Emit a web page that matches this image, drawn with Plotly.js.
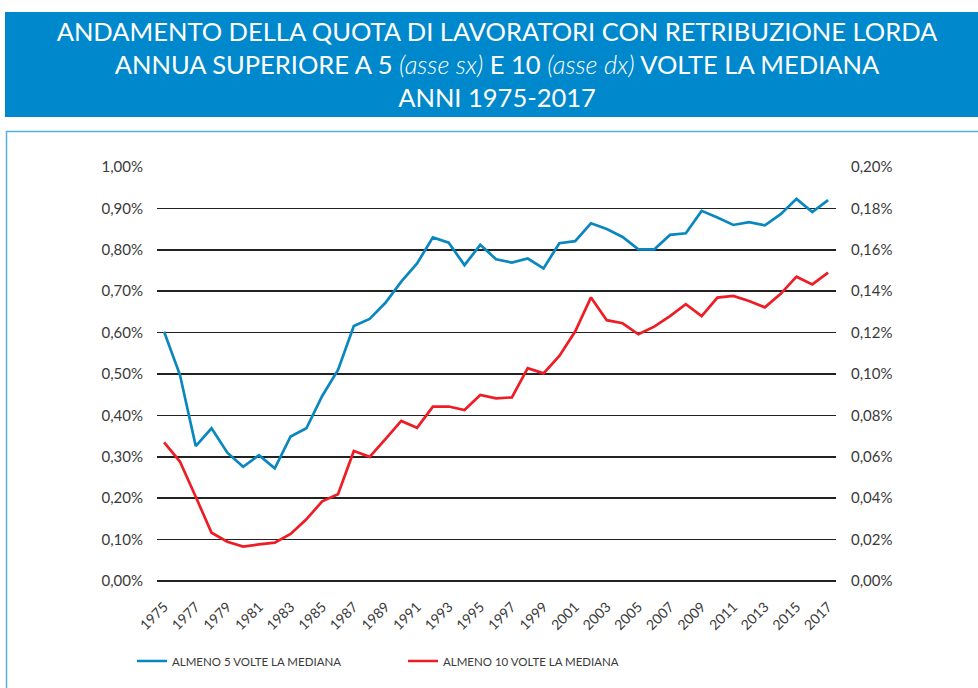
<!DOCTYPE html>
<html>
<head>
<meta charset="utf-8">
<script src="https://cdn.plot.ly/plotly-3.0.1.min.js"></script>
<style>html,body{margin:0;padding:0;background:#fff;}#chart{width:978px;height:688px;}</style>
</head>
<body>
<div id="chart"></div>
<script>
const years = [1975,1976,1977,1978,1979,1980,1981,1982,1983,1984,1985,1986,1987,1988,1989,1990,1991,1992,1993,1994,1995,1996,1997,1998,1999,2000,2001,2002,2003,2004,2005,2006,2007,2008,2009,2010,2011,2012,2013,2014,2015,2016,2017];
const almeno5 = [0.602,0.498,0.326,0.369,0.310,0.276,0.304,0.272,0.349,0.369,0.447,0.510,0.616,0.633,0.672,0.723,0.767,0.830,0.817,0.763,0.812,0.777,0.769,0.779,0.755,0.816,0.821,0.864,0.850,0.831,0.801,0.801,0.836,0.840,0.894,0.878,0.860,0.867,0.859,0.886,0.923,0.891,0.920];
const almeno10 = [0.0670,0.0577,0.0407,0.0233,0.0190,0.0166,0.0177,0.0185,0.0227,0.0298,0.0385,0.0419,0.0628,0.0600,0.0685,0.0773,0.0740,0.0842,0.0843,0.0826,0.0899,0.0882,0.0887,0.1028,0.1003,0.1087,0.1205,0.1370,0.1260,0.1245,0.1192,0.1229,0.1280,0.1337,0.1280,0.1369,0.1377,0.1353,0.1322,0.1387,0.1470,0.1433,0.1490];
const xTickVals = [1975,1977,1979,1981,1983,1985,1987,1989,1991,1993,1995,1997,1999,2001,2003,2005,2007,2009,2011,2013,2015,2017];
const xTickLabels = ["1975","1977","1979","1981","1983","1985","1987","1989","1991","1993","1995","1997","1999","2001","2003","2005","2007","2009","2011","2013","2015","2017"];
const seriesNames = ["ALMENO 5 VOLTE LA MEDIANA","ALMENO 10 VOLTE LA MEDIANA"];
const titleText = "ANDAMENTO DELLA QUOTA DI LAVORATORI CON RETRIBUZIONE LORDA<br>ANNUA SUPERIORE A 5 <i style='font-weight:300'>(asse sx)</i> E 10 <i style='font-weight:300'>(asse dx)</i> VOLTE LA MEDIANA<br>ANNI 1975-2017";

// plot area in pixels
const W = 978, H = 688, L = 157, R = 836, T = 167, B = 581;
const px = v => (v - L) / (R - L);
const py = v => (B - v) / (B - T);

const font = "Lato, 'Open Sans', sans-serif";
const txt = '#3a3a3a';

const traces = [
  {x: years, y: almeno5, name: seriesNames[0], type: 'scatter', mode: 'lines', yaxis: 'y',
   line: {color: '#0a87bf', width: 2.7}},
  {x: years, y: almeno10, name: seriesNames[1], type: 'scatter', mode: 'lines', yaxis: 'y2',
   line: {color: '#ee1d25', width: 2.7}}
];

const layout = {
  width: W, height: H,
  margin: {l: L, r: W - R, t: T, b: H - B, pad: 0},
  paper_bgcolor: '#fff', plot_bgcolor: '#fff',
  separators: ',.',
  showlegend: true,
  font: {family: font, color: txt},
  title: {text: titleText, font: {family: font, size: 25.5, color: '#fff'},
          xref: 'container', yref: 'container', x: 497 / W, xanchor: 'center', y: 1 - 41 / H, yanchor: 'middle'},
  xaxis: {range: [1974.55, 2017.5], tickmode: 'array', tickvals: xTickVals, ticktext: xTickLabels,
          tickangle: -45, showgrid: false, zeroline: false, showline: false, ticks: '', ticklabelstandoff: 14,
          tickfont: {size: 14, color: txt, family: font}},
  yaxis: {range: [0, 1.0], dtick: 0.1, tickformat: '.2f', ticksuffix: '%', showgrid: true,
          gridcolor: '#222', gridwidth: 1.6, zeroline: true, zerolinecolor: '#222', zerolinewidth: 1.6,
          showline: false, ticks: '', ticklabelstandoff: 13, tickfont: {size: 15, color: txt, family: font}},
  yaxis2: {range: [0, 0.2], dtick: 0.02, tickformat: '.2f', ticksuffix: '%', overlaying: 'y', side: 'right',
           showgrid: false, zeroline: false, showline: false, ticks: '', ticklabelstandoff: 14,
           tickfont: {size: 15, color: txt, family: font}},
  legend: {orientation: 'h', x: px(132), xanchor: 'left', y: py(661), yanchor: 'middle',
           font: {size: 11.5, color: txt, family: font}, entrywidth: 226, itemwidth: 30, bgcolor: 'rgba(0,0,0,0)'},
  shapes: [
    {type: 'rect', xref: 'paper', yref: 'paper', x0: px(5), x1: px(990), y0: py(117), y1: py(12),
     fillcolor: '#0088cc', line: {width: 0}, layer: 'below'},
    {type: 'rect', xref: 'paper', yref: 'paper', x0: px(6.5), x1: px(1000), y0: py(720), y1: py(131.5),
     fillcolor: 'rgba(0,0,0,0)', line: {color: '#55b0e6', width: 1.5}, layer: 'below'}
  ]
};

Plotly.newPlot('chart', traces, layout, {displayModeBar: false, staticPlot: true});
</script>
</body>
</html>
